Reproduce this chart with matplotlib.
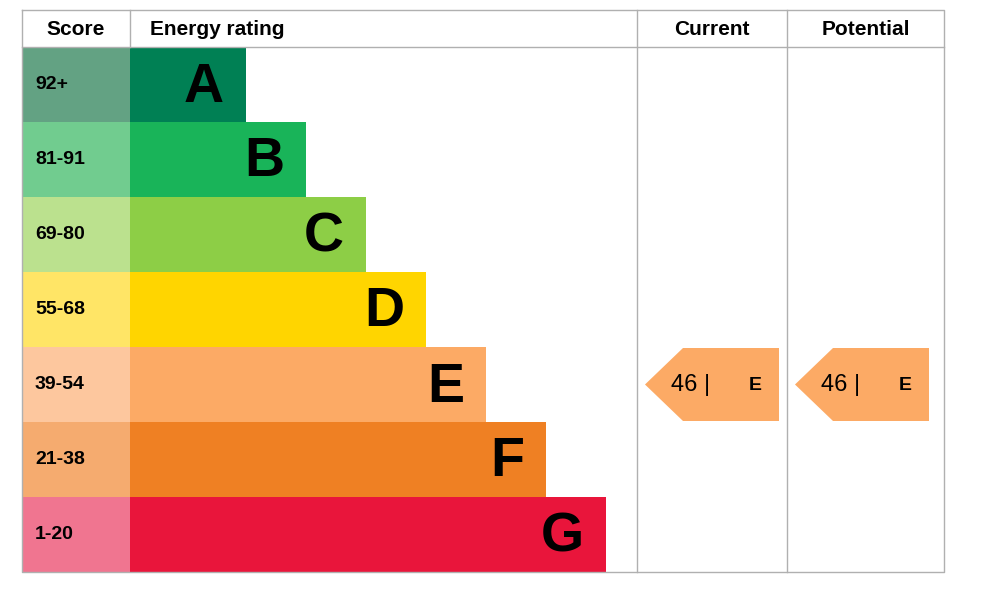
import matplotlib.pyplot as plt
from matplotlib.patches import Rectangle, Polygon

bands = ["A", "B", "C", "D", "E", "F", "G"]
scores = ["92+", "81-91", "69-80", "55-68", "39-54", "21-38", "1-20"]
bar_colors = ["#008054", "#19b459", "#8dce46", "#ffd500", "#fcaa65", "#ef8023", "#e9153b"]
score_colors = ["#63a283", "#71cc8f", "#bbe18e", "#ffe566", "#fdc79e", "#f5ab6f", "#f07590"]
current_score, current_band = 46, "E"
potential_score, potential_band = 46, "E"

plt.rcParams['font.family'] = ['Liberation Sans', 'DejaVu Sans']
fig = plt.figure(figsize=(9.87, 5.99), dpi=100)
ax = fig.add_axes([0, 0, 1, 1])
ax.set_xlim(0, 987)
ax.set_ylim(599, 0)
ax.axis("off")

left, score_w, top, head_h, row_h = 22, 108, 10, 37, 75
cur_x, pot_x, right = 637, 787, 944
bottom = top + head_h + row_h * len(bands)
grey = "#b0b0b0"

# grid lines
ax.plot([left, right, right, left, left], [top, top, bottom, bottom, top], color=grey, lw=1)
ax.plot([left, right], [top + head_h] * 2, color=grey, lw=1)
for x in (left + score_w, cur_x, pot_x):
    ax.plot([x, x], [top, bottom if x != left + score_w else top + head_h], color=grey, lw=1)

ax.text(left + score_w / 2, top + head_h / 2 + 1, "Score", ha="center", va="center", fontsize=15, fontweight="bold")
ax.text(left + score_w + 20, top + head_h / 2 + 1, "Energy rating", ha="left", va="center", fontsize=15, fontweight="bold")
ax.text((cur_x + pot_x) / 2, top + head_h / 2 + 1, "Current", ha="center", va="center", fontsize=15, fontweight="bold")
ax.text((pot_x + right) / 2, top + head_h / 2 + 1, "Potential", ha="center", va="center", fontsize=15, fontweight="bold")

for i, (b, s) in enumerate(zip(bands, scores)):
    y0 = top + head_h + i * row_h
    ax.add_patch(Rectangle((left, y0), score_w, row_h, color=score_colors[i], lw=0))
    ax.text(left + 13, y0 + row_h / 2, s, ha="left", va="center", fontsize=14, fontweight="bold")
    x_end = left + score_w + 116 + 60 * i
    ax.add_patch(Rectangle((left + score_w, y0), x_end - left - score_w, row_h, color=bar_colors[i], lw=0))
    ax.text(x_end - 22, y0 + row_h / 2 + 3, b, ha="right", va="center", fontsize=40, fontweight="bold")


def arrow(x0, score, band):
    i = bands.index(band)
    y0 = top + head_h + i * row_h + 1
    h = row_h - 2
    x1 = x0 + 134
    pts = [(x0, y0 + h / 2), (x0 + 38, y0), (x1, y0), (x1, y0 + h), (x0 + 38, y0 + h)]
    ax.add_patch(Polygon(pts, closed=True, color=bar_colors[i], lw=0))
    ax.text(x0 + 26, y0 + h / 2, f"{score} |", ha="left", va="center", fontsize=17)
    ax.text(x0 + 110, y0 + h / 2 + 1, band, ha="center", va="center", fontsize=14, fontweight="bold")


arrow(cur_x + 8, current_score, current_band)
arrow(pot_x + 8, potential_score, potential_band)

fig.savefig("out.png", dpi=100)
